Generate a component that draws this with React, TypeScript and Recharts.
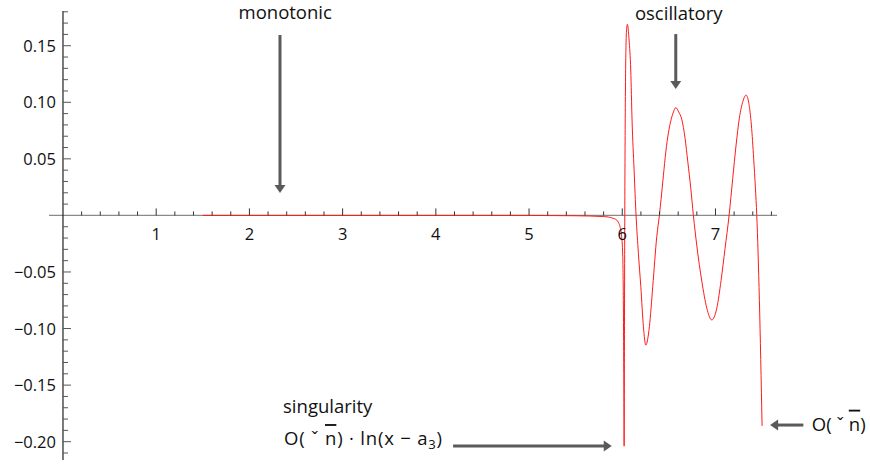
import React from 'react';
import { LineChart, Line, XAxis, YAxis, ReferenceLine, ReferenceDot } from 'recharts';

const FONT = '"Open Sans", "Noto Sans", sans-serif';

// curve samples (x, value)
const curveX = [
  1.5, 2.5, 3.5, 4.5, 5.0, 5.5, 5.8, 5.9, 5.94, 5.96, 5.976, 5.994, 6.005, 6.012, 6.017,
  6.02, 6.023, 6.027, 6.033, 6.04, 6.047, 6.055, 6.073, 6.091, 6.105, 6.127, 6.148, 6.173,
  6.199, 6.227, 6.252, 6.291, 6.327, 6.37, 6.398, 6.416, 6.441, 6.467, 6.495, 6.518, 6.545, 6.574,
  6.605, 6.638, 6.674, 6.703, 6.735, 6.763, 6.799, 6.853, 6.907, 6.96, 7.014, 7.06, 7.103,
  7.146, 7.185, 7.221, 7.256, 7.295, 7.328, 7.36, 7.385, 7.41, 7.428, 7.443, 7.471, 7.5,
];
const curveY = [
  0, 0, 0, 0, 0, -0.0003, -0.001, -0.0025, -0.004, -0.0065, -0.01, -0.019, -0.035, -0.08, -0.15,
  -0.204, -0.12, 0, 0.1, 0.15, 0.165, 0.169, 0.155, 0.1285, 0.0843, 0.04, 0, -0.0335,
  -0.063, -0.0984, -0.1146, -0.0984, -0.063, -0.0188, 0, 0.014, 0.035, 0.056, 0.073, 0.0827, 0.0905, 0.0952,
  0.0915, 0.085, 0.068, 0.0475, 0.024, 0, -0.0262, -0.058, -0.082, -0.0924, -0.082, -0.0575, -0.029,
  0, 0.0326, 0.0622, 0.0859, 0.101, 0.1064, 0.098, 0.08, 0.05, 0.025, 0, -0.075, -0.186,
];

const xMajorTicks = [1, 2, 3, 4, 5, 6, 7];
const xMajorLabels = ['1', '2', '3', '4', '5', '6', '7'];
const xMinorTicks = [
  0.2, 0.4, 0.6, 0.8, 1.2, 1.4, 1.6, 1.8, 2.2, 2.4, 2.6, 2.8, 3.2, 3.4, 3.6, 3.8,
  4.2, 4.4, 4.6, 4.8, 5.2, 5.4, 5.6, 5.8, 6.2, 6.4, 6.6, 6.8, 7.2, 7.4, 7.6,
];
const yMajorTicks = [-0.2, -0.15, -0.1, -0.05, 0.05, 0.1, 0.15];
const yMajorLabels = ['\u22120.20', '\u22120.15', '\u22120.10', '\u22120.05', '0.05', '0.10', '0.15'];
const yMinorTicks = [
  -0.21, -0.19, -0.18, -0.17, -0.16, -0.14, -0.13, -0.12, -0.11, -0.09, -0.08, -0.07, -0.06,
  -0.04, -0.03, -0.02, -0.01, 0.01, 0.02, 0.03, 0.04, 0.06, 0.07, 0.08, 0.09, 0.11, 0.12,
  0.13, 0.14, 0.16, 0.17, 0.18,
];

const X_DOMAIN: [number, number] = [-0.15, 7.66];
const Y_DOMAIN: [number, number] = [-0.2162, 0.1807];

// annotation arrows: tail -> tip in data coordinates
const arrows = [
  { id: 'mono', from: { x: 2.328, y: 0.1595 }, to: { x: 2.328, y: 0.0198 } },
  { id: 'osc', from: { x: 6.574, y: 0.1603 }, to: { x: 6.574, y: 0.1117 } },
  { id: 'sing', from: { x: 4.185, y: -0.2038 }, to: { x: 5.887, y: -0.2038 } },
  { id: 'end', from: { x: 7.943, y: -0.1853 }, to: { x: 7.586, y: -0.1853 } },
];

const notes = [
  { id: 'monotonic', x: 2.384, y: 0.1735, anchor: 'middle', kind: 'plain', text: 'monotonic' },
  { id: 'oscillatory', x: 6.606, y: 0.173, anchor: 'middle', kind: 'plain', text: 'oscillatory' },
  { id: 'singularity', x: 2.361, y: -0.1744, anchor: 'start', kind: 'plain', text: 'singularity' },
  { id: 'singformula', x: 2.371, y: -0.203, anchor: 'start', kind: 'log', text: '' },
  { id: 'endformula', x: 8.033, y: -0.1903, anchor: 'start', kind: 'sqrt', text: '' },
];

const data = curveX.map((x, i) => ({ x, y: curveY[i] }));

const ARROW_COLOR = '#5a5a5a';

const Arrow = (props: any) => {
  const { x1, y1, x2, y2 } = props;
  const dx = x2 - x1;
  const dy = y2 - y1;
  const len = Math.sqrt(dx * dx + dy * dy) || 1;
  const ux = dx / len;
  const uy = dy / len;
  const headLen = 8;
  const headHalf = 5.5;
  const bx = x2 - ux * headLen;
  const by = y2 - uy * headLen;
  const px = -uy;
  const py = ux;
  return (
    <g>
      <line x1={x1} y1={y1} x2={bx + ux} y2={by + uy} stroke={ARROW_COLOR} strokeWidth={3} />
      <polygon
        points={`${x2},${y2} ${bx + px * headHalf},${by + py * headHalf} ${bx - px * headHalf},${by - py * headHalf}`}
        fill={ARROW_COLOR}
      />
    </g>
  );
};

const SqrtN = () => (
  <>
    <tspan>{'O( \u02c7 '}</tspan>
    <tspan textDecoration="overline">n</tspan>
    <tspan>)</tspan>
  </>
);

const makeNote = (n: any) => (props: any) => {
  const { cx, cy } = props;
  if (cx == null || cy == null) return <g />;
  const extra = n.kind === 'log' ? { textLength: 158, lengthAdjust: 'spacing' } : {};
  return (
    <text x={cx} y={cy} textAnchor={n.anchor} fontFamily={FONT} fontSize={18.5} fill="#111" {...extra}>
      {n.kind === 'plain' && n.text}
      {n.kind === 'sqrt' && <SqrtN />}
      {n.kind === 'log' && (
        <>
          <SqrtN />
          <tspan>{' \u00b7 ln(x \u2212 a'}</tspan>
          <tspan fontSize={13} dy={4}>3</tspan>
          <tspan dy={-4}>)</tspan>
        </>
      )}
    </text>
  );
};

const xTickShape = (major: boolean, label?: string) => (props: any) => {
  const { cx, cy } = props;
  if (cx == null || cy == null) return <g />;
  return (
    <g>
      <line x1={cx} y1={cy} x2={cx} y2={cy - (major ? 7 : 4)} stroke="#333" strokeWidth={1} />
      {label && (
        <text x={cx} y={cy + 25} textAnchor="middle" fontFamily={FONT} fontSize={16.5} fill="#111">
          {label}
        </text>
      )}
    </g>
  );
};

const yTickShape = (major: boolean, label?: string) => (props: any) => {
  const { cx, cy } = props;
  if (cx == null || cy == null) return <g />;
  return (
    <g>
      <line x1={cx} y1={cy} x2={cx + (major ? 8 : 5)} y2={cy} stroke="#555" strokeWidth={1} />
      {label && (
        <text x={cx - 7} y={cy + 6} textAnchor="end" fontFamily={FONT} fontSize={16.5} fill="#111">
          {label}
        </text>
      )}
    </g>
  );
};

export default function App() {
  return (
    <div style={{ position: 'absolute', left: 0, top: 0, width: 870, height: 464, background: '#fff' }}>
      <LineChart
        width={870}
        height={464}
        data={data}
        margin={{ top: 11, right: 93, bottom: 4, left: 49 }}
      >
        <XAxis type="number" dataKey="x" domain={X_DOMAIN} allowDataOverflow hide />
        <YAxis type="number" domain={Y_DOMAIN} allowDataOverflow hide />
        <ReferenceLine y={0} stroke="#8a8a8a" strokeWidth={1.2} />
        <ReferenceLine x={0} stroke="#222" strokeWidth={1.2} />
        {xMinorTicks.map((v) => (
          <ReferenceDot key={`xm${v}`} x={v} y={0} r={0} shape={xTickShape(false)} />
        ))}
        {xMajorTicks.map((v, i) => (
          <ReferenceDot key={`xM${v}`} x={v} y={0} r={0} shape={xTickShape(true, xMajorLabels[i])} />
        ))}
        {yMinorTicks.map((v) => (
          <ReferenceDot key={`ym${v}`} x={0} y={v} r={0} shape={yTickShape(false)} />
        ))}
        {yMajorTicks.map((v, i) => (
          <ReferenceDot key={`yM${v}`} x={0} y={v} r={0} shape={yTickShape(true, yMajorLabels[i])} />
        ))}
        {arrows.map((a) => (
          <ReferenceLine
            key={a.id}
            segment={[a.from, a.to]}
            ifOverflow="visible"
            shape={(p: any) => <Arrow {...p} />}
          />
        ))}
        {notes.map((n) => (
          <ReferenceDot key={n.id} x={n.x} y={n.y} r={0} ifOverflow="visible" shape={makeNote(n)} />
        ))}
        <Line
          type="monotone"
          dataKey="y"
          stroke="#ff1a1a"
          strokeWidth={1}
          dot={false}
          isAnimationActive={false}
        />
      </LineChart>
    </div>
  );
}
